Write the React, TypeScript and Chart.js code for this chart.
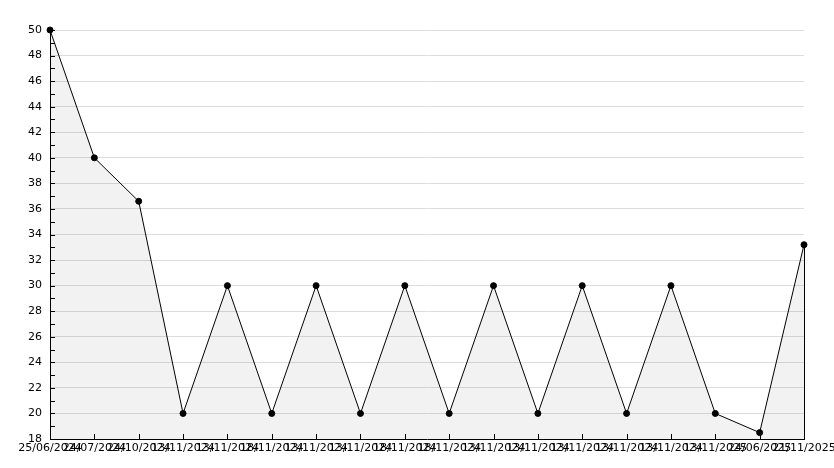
import React, { useEffect, useRef } from "react";
import { Chart, registerables } from "chart.js";

Chart.register(...registerables);

const labels = [
  "25/06/2024", "24/07/2024", "24/10/2024", "13/11/2024", "13/11/2024",
  "18/11/2024", "13/11/2024", "13/11/2024", "18/11/2024", "18/11/2024",
  "13/11/2024", "13/11/2024", "13/11/2024", "13/11/2024", "13/11/2024",
  "13/11/2025", "24/06/2025", "21/11/2025",
];
const values = [50, 40, 36.6, 20, 30, 20, 30, 20, 30, 20, 30, 20, 30, 20, 30, 20, 18.5, 33.2];
const yMin = 18;
const yMax = 50;

const tickPlugin = {
  id: "inwardTicks",
  afterDatasetsDraw(chart: any) {
    const { ctx, chartArea, scales } = chart;
    const x = scales.x;
    const y = scales.y;
    ctx.save();
    ctx.strokeStyle = "#000";
    ctx.lineWidth = 1;
    ctx.beginPath();
    for (let v = yMin; v <= yMax; v++) {
      const py = Math.round(y.getPixelForValue(v)) + 0.5;
      ctx.moveTo(chartArea.left, py);
      ctx.lineTo(chartArea.left + 5, py);
    }
    for (let i = 0; i < values.length; i++) {
      const px = Math.round(x.getPixelForValue(i)) + 0.5;
      ctx.moveTo(px, chartArea.bottom);
      ctx.lineTo(px, chartArea.bottom - 5);
    }
    const lastX = Math.round(x.getPixelForValue(values.length - 1)) + 0.5;
    ctx.moveTo(lastX, y.getPixelForValue(values[values.length - 1]));
    ctx.lineTo(lastX, chartArea.bottom);
    ctx.stroke();
    ctx.restore();
  },
};

export default function App() {
  const ref = useRef<HTMLCanvasElement>(null);
  useEffect(() => {
    document.body.style.margin = "0";
    const chart = new Chart(ref.current!, {
      type: "line",
      data: {
        labels,
        datasets: [
          {
            data: values,
            borderColor: "#000",
            borderWidth: 1,
            backgroundColor: "rgba(0,0,0,0.05)",
            fill: "start",
            tension: 0,
            clip: false as any,
            pointRadius: 3,
            pointBackgroundColor: "#000",
            pointBorderColor: "#000",
            pointBorderWidth: 1,
            pointStyle: "circle",
          },
        ],
      },
      options: {
        animation: false,
        responsive: false,
        maintainAspectRatio: false,
        layout: { padding: { top: 30, right: 30, left: 0, bottom: 0 } },
        plugins: { legend: { display: false }, tooltip: { enabled: false } },
        scales: {
          x: {
            offset: false,
            grid: { display: false, drawTicks: false },
            border: { display: true, color: "#000", width: 1 },
            ticks: {
              autoSkip: false,
              maxRotation: 0,
              minRotation: 0,
              padding: 3,
              color: "#000",
              font: { family: "DejaVu Sans", size: 11 },
            },
            afterFit: (s: any) => {
              s.height = 29;
              s.paddingRight = 0;
              s.paddingLeft = 0;
            },
          },
          y: {
            min: yMin,
            max: yMax,
            ticks: {
              stepSize: 1,
              autoSkip: false,
              padding: 8,
              color: "#000",
              font: { family: "DejaVu Sans", size: 11 },
              callback: (v: any) => (Math.round(Number(v)) % 2 === 0 ? String(Math.round(Number(v))) : ""),
            },
            grid: {
              drawTicks: false,
              color: (c: any) =>
                c.tick && Math.round(c.tick.value) % 2 === 0 && c.tick.value !== yMin ? "#dddddd" : "transparent",
            },
            border: { display: true, color: "#000", width: 1 },
            afterFit: (s: any) => {
              s.width = 50;
              s.paddingTop = 0;
              s.paddingBottom = 0;
            },
          },
        },
      },
      plugins: [tickPlugin],
    });
    return () => chart.destroy();
  }, []);
  return (
    <div style={{ width: 834, height: 468 }}>
      <canvas ref={ref} width={834} height={468} style={{ display: "block" }} />
    </div>
  );
}
